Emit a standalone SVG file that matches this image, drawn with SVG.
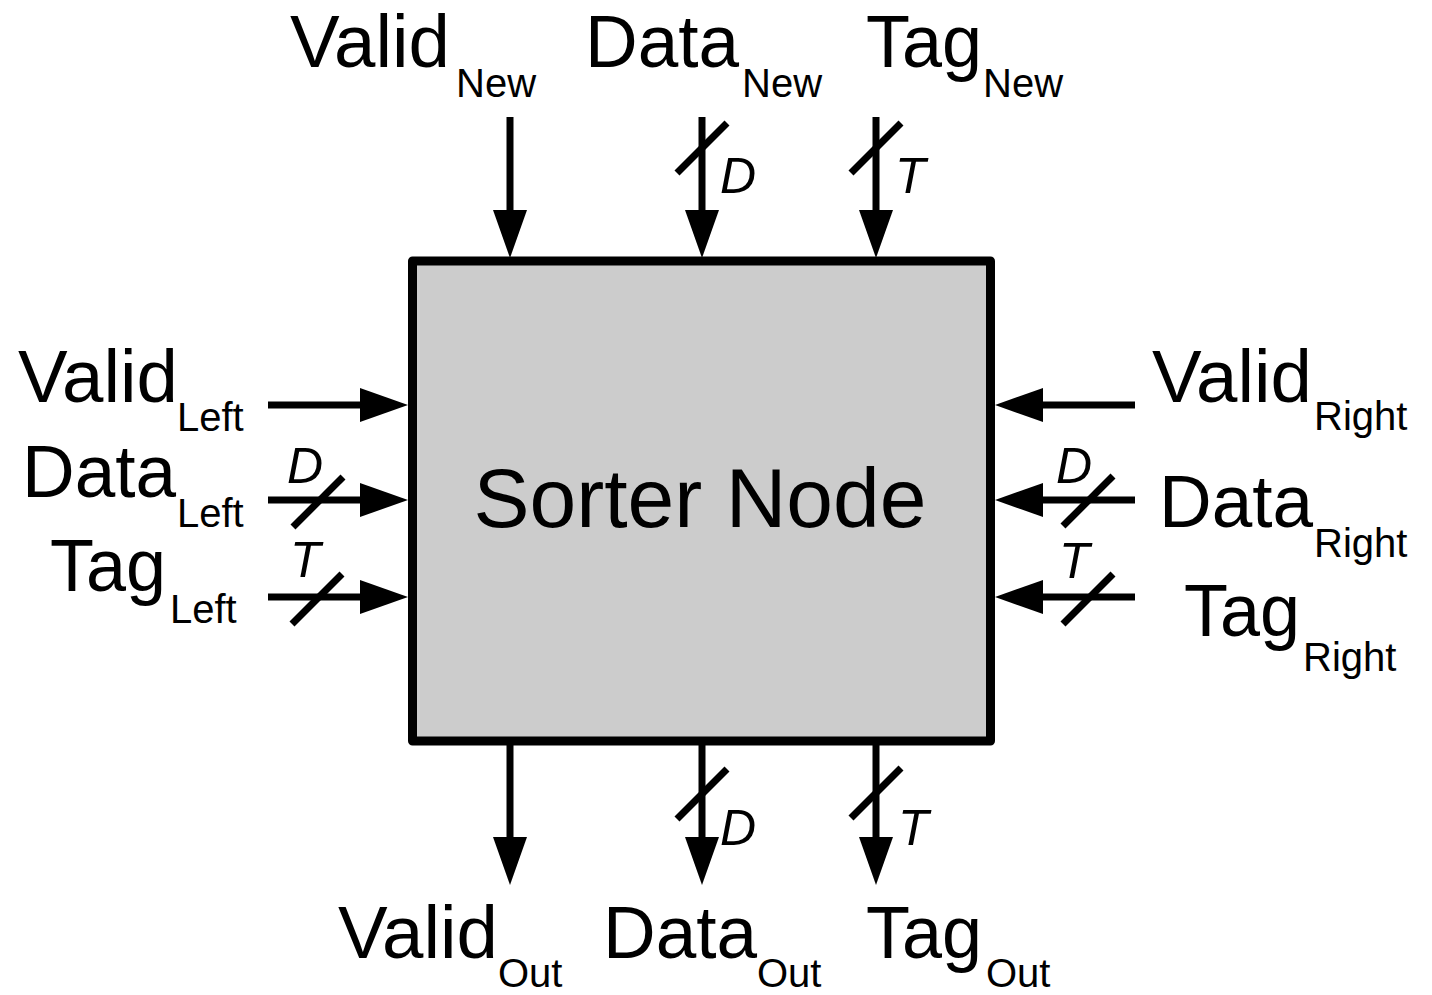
<svg xmlns="http://www.w3.org/2000/svg" width="1432" height="995" viewBox="0 0 1432 995">
<style>
.lbl{font-family:"Liberation Sans",Arial,sans-serif;font-size:74px;fill:#000}
.sub{font-family:"Liberation Sans",Arial,sans-serif;font-size:40px;fill:#000}
.bw{font-family:"Liberation Sans",Arial,sans-serif;font-size:50px;font-style:italic;fill:#000}
.title{font-family:"Liberation Sans",Arial,sans-serif;font-size:84px;fill:#000}
.wire{stroke:#000;stroke-width:7;fill:none}
.slash{stroke:#000;stroke-width:7;fill:none}
</style>
<defs>
<marker id="ah" markerUnits="userSpaceOnUse" markerWidth="48" markerHeight="34" refX="5" refY="17" orient="auto" viewBox="0 0 48 34">
<path d="M0,0 L48,17 L0,34 Z" fill="#000"/>
</marker>
</defs>
<rect width="1432" height="995" fill="#fff"/>
<g id="sorter-node">
<rect x="412.5" y="261" width="578" height="480" fill="#cccccc" stroke="#000" stroke-width="9" stroke-linejoin="round"/>
<text class="title" x="700" y="527" text-anchor="middle">Sorter Node</text>
</g>
<g id="connectors">
<line class="wire" x1="510" y1="117" x2="510" y2="215" marker-end="url(#ah)"/>
<line class="wire" x1="702" y1="117" x2="702" y2="215" marker-end="url(#ah)"/>
<line class="wire" x1="876" y1="117" x2="876" y2="215" marker-end="url(#ah)"/>
<line class="wire" x1="268" y1="405" x2="365" y2="405" marker-end="url(#ah)"/>
<line class="wire" x1="268" y1="500" x2="365" y2="500" marker-end="url(#ah)"/>
<line class="wire" x1="268" y1="597" x2="365" y2="597" marker-end="url(#ah)"/>
<line class="wire" x1="1135" y1="405" x2="1038" y2="405" marker-end="url(#ah)"/>
<line class="wire" x1="1135" y1="500" x2="1038" y2="500" marker-end="url(#ah)"/>
<line class="wire" x1="1135" y1="597" x2="1038" y2="597" marker-end="url(#ah)"/>
<line class="wire" x1="510" y1="744" x2="510" y2="842" marker-end="url(#ah)"/>
<line class="wire" x1="702" y1="744" x2="702" y2="842" marker-end="url(#ah)"/>
<line class="wire" x1="876" y1="744" x2="876" y2="842" marker-end="url(#ah)"/>
<line class="slash" x1="677" y1="173" x2="727" y2="123"/>
<line class="slash" x1="851" y1="173" x2="901" y2="123"/>
<line class="slash" x1="677" y1="819" x2="727" y2="769"/>
<line class="slash" x1="851" y1="818" x2="901" y2="768"/>
<line class="slash" x1="293" y1="527" x2="343" y2="477"/>
<line class="slash" x1="292" y1="624" x2="342" y2="574"/>
<line class="slash" x1="1063" y1="526" x2="1113" y2="476"/>
<line class="slash" x1="1063" y1="624" x2="1113" y2="574"/>
<text class="bw" x="720" y="193">D</text>
<text class="bw" x="895" y="193">T</text>
<text class="bw" x="720" y="845">D</text>
<text class="bw" x="898" y="845">T</text>
<text class="bw" x="287" y="483">D</text>
<text class="bw" x="290" y="577">T</text>
<text class="bw" x="1056" y="483">D</text>
<text class="bw" x="1059" y="578">T</text>
</g>
<g id="valid-new"><text class="lbl" x="290" y="67" textLength="160" lengthAdjust="spacingAndGlyphs">Valid</text><text class="sub" x="456" y="97">New</text></g>
<g id="data-new"><text class="lbl" x="585" y="67" textLength="154" lengthAdjust="spacingAndGlyphs">Data</text><text class="sub" x="742" y="97">New</text></g>
<g id="tag-new"><text class="lbl" x="866" y="67" textLength="116" lengthAdjust="spacingAndGlyphs">Tag</text><text class="sub" x="983" y="97">New</text></g>
<g id="valid-left"><text class="lbl" x="18" y="402" textLength="160" lengthAdjust="spacingAndGlyphs">Valid</text><text class="sub" x="177" y="431">Left</text></g>
<g id="data-left"><text class="lbl" x="22" y="497" textLength="154" lengthAdjust="spacingAndGlyphs">Data</text><text class="sub" x="177" y="527">Left</text></g>
<g id="tag-left"><text class="lbl" x="50" y="591" textLength="116" lengthAdjust="spacingAndGlyphs">Tag</text><text class="sub" x="170" y="623">Left</text></g>
<g id="valid-right"><text class="lbl" x="1152" y="402" textLength="160" lengthAdjust="spacingAndGlyphs">Valid</text><text class="sub" x="1314" y="430">Right</text></g>
<g id="data-right"><text class="lbl" x="1159" y="527" textLength="154" lengthAdjust="spacingAndGlyphs">Data</text><text class="sub" x="1314" y="557">Right</text></g>
<g id="tag-right"><text class="lbl" x="1184" y="636" textLength="116" lengthAdjust="spacingAndGlyphs">Tag</text><text class="sub" x="1303" y="671">Right</text></g>
<g id="valid-out"><text class="lbl" x="338" y="958" textLength="160" lengthAdjust="spacingAndGlyphs">Valid</text><text class="sub" x="498" y="987">Out</text></g>
<g id="data-out"><text class="lbl" x="603" y="958" textLength="154" lengthAdjust="spacingAndGlyphs">Data</text><text class="sub" x="757" y="987">Out</text></g>
<g id="tag-out"><text class="lbl" x="866" y="958" textLength="116" lengthAdjust="spacingAndGlyphs">Tag</text><text class="sub" x="986" y="987">Out</text></g>
</svg>
